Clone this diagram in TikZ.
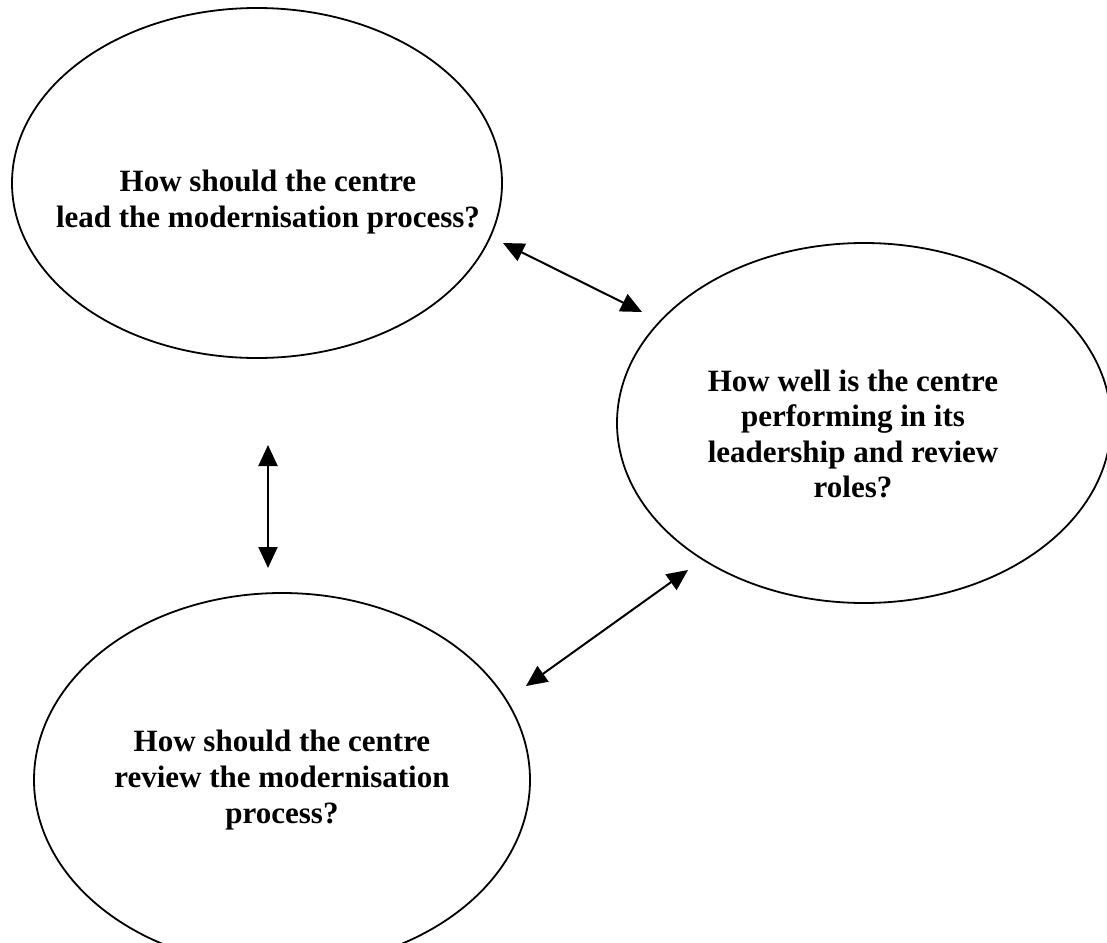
\documentclass[tikz,border=0pt]{standalone}
\usepackage{fontspec}
\setmainfont{Liberation Serif}
\usetikzlibrary{shapes.geometric,arrows.meta}
\begin{document}
\begin{tikzpicture}[x=1pt,y=-1pt,
  bubble/.style={draw, ellipse, line width=1.8pt, inner sep=0pt, outer sep=0pt},
  qtext/.style={font=\fontsize{31}{35.6}\selectfont\bfseries, align=center, inner sep=0pt},
  link/.style={line width=2pt, {Triangle[length=21pt,width=19pt]}-{Triangle[length=21pt,width=19pt]}}]
\fill[white] (0,0) rectangle (1107,942);
\useasboundingbox (0,0) rectangle (1107,942);
% ellipses
\node[bubble, minimum width=490pt, minimum height=350pt] (lead) at (257,183) {};
\node[bubble, minimum width=494pt, minimum height=360pt] (perf) at (864,423) {};
\node[bubble, minimum width=496pt, minimum height=374pt] (review) at (282,780) {};
% texts
\node[qtext] (leadtxt) at (268,202) {How should the centre\\lead the modernisation process?};
\node[qtext] (perftxt) at (853,434) {How well is the centre\\performing in its\\leadership and review\\roles?};
\node[qtext] (reviewtxt) at (282,780) {How should the centre\\review the modernisation\\process?};
% connectors
\coordinate (a1) at (503,243); \coordinate (b1) at (642,312);
\coordinate (a2) at (268,445); \coordinate (b2) at (268,568);
\coordinate (a3) at (526,686); \coordinate (b3) at (688,570);
\draw[link] (a1) -- (b1);
\draw[link] (a2) -- (b2);
\draw[link] (a3) -- (b3);
\end{tikzpicture}
\end{document}
